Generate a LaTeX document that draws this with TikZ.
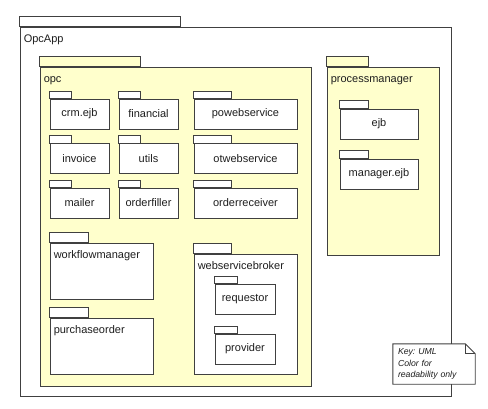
\documentclass[tikz,border=0pt]{standalone}
\usepackage{fontspec}
\setmainfont{Liberation Sans}
\usetikzlibrary{positioning, calc}
\definecolor{LN}{RGB}{64,64,64}
\definecolor{TX}{RGB}{30,30,30}
\definecolor{PY}{RGB}{255,255,204}
\tikzset{
  pkg/.style={draw=LN, fill=white, line width=0.9pt, inner sep=0pt,
    text=TX, font=\fontsize{11}{13}\selectfont},
  pkgtab/.style={draw=LN, fill=white, line width=0.9pt},
  yel/.style={fill=PY},
  pkgname/.style={anchor=base west, inner sep=0pt, text=TX,
    font=\fontsize{11}{13}\selectfont},
  notebox/.style={fill=white, inner xsep=5pt, inner ysep=0pt, text=TX,
    align=left, font=\fontsize{8.7}{11.5}\selectfont\itshape\frenchspacing},
}

\begin{document}
\begin{tikzpicture}[x=1pt,y=-1pt]
\useasboundingbox (0,0) rectangle (488,408);
\fill[white] (0,0) rectangle (488,408);

% OpcApp
\node[pkg, minimum width=431, minimum height=369] (opcapp) at (235.5,211.5) {};
\draw[pkgtab] (opcapp.north west) rectangle ++(161,-10);
\node[pkgname] (opcappname) at ($(opcapp.north west)+(4,15.5)$) {OpcApp};

% opc
\node[pkg, yel, minimum width=271, minimum height=319] (opc) at (175.5,226.5) {};
\draw[pkgtab, yel] (opc.north west) rectangle ++(101,-10);
\node[pkgname] (opcname) at ($(opc.north west)+(4,15.5)$) {opc};

\node[pkg, minimum width=59, minimum height=30] (crm) at (79.5,114) {crm.ejb};
\draw[pkgtab] (crm.north west) rectangle ++(22,-7.5);
\node[pkg, minimum width=59, minimum height=30] (financial) at (148.5,114) {financial};
\draw[pkgtab] (financial.north west) rectangle ++(22,-7.5);
\node[pkg, minimum width=103, minimum height=30] (powebservice) at (245.5,114) {powebservice};
\draw[pkgtab] (powebservice.north west) rectangle ++(38,-7.5);

\node[pkg, minimum width=59, minimum height=30] (invoice) at (79.5,158.5) {invoice};
\draw[pkgtab] (invoice.north west) rectangle ++(22,-7.5);
\node[pkg, minimum width=59, minimum height=30] (utils) at (148.5,158.5) {utils};
\draw[pkgtab] (utils.north west) rectangle ++(22,-7.5);
\node[pkg, minimum width=103, minimum height=30] (otwebservice) at (245.5,158.5) {otwebservice};
\draw[pkgtab] (otwebservice.north west) rectangle ++(38,-7.5);

\node[pkg, minimum width=59, minimum height=30] (mailer) at (79.5,203) {mailer};
\draw[pkgtab] (mailer.north west) rectangle ++(22,-7.5);
\node[pkg, minimum width=59, minimum height=30] (orderfiller) at (148.5,203) {orderfiller};
\draw[pkgtab] (orderfiller.north west) rectangle ++(22,-7.5);
\node[pkg, minimum width=103, minimum height=30] (orderreceiver) at (245.5,203) {orderreceiver};
\draw[pkgtab] (orderreceiver.north west) rectangle ++(38,-7.5);

\node[pkg, minimum width=103, minimum height=56] (workflow) at (101.5,271) {};
\draw[pkgtab] (workflow.north west) rectangle ++(39,-10);
\node[pkgname] (workflowname) at ($(workflow.north west)+(4,15.5)$) {workflowmanager};

\node[pkg, minimum width=103, minimum height=56] (purchase) at (101.5,346) {};
\draw[pkgtab] (purchase.north west) rectangle ++(39,-10);
\node[pkgname] (purchasename) at ($(purchase.north west)+(4,15.5)$) {purchaseorder};

\node[pkg, minimum width=103, minimum height=120] (broker) at (245.5,314) {};
\draw[pkgtab] (broker.north west) rectangle ++(38,-10);
\node[pkgname] (brokername) at ($(broker.north west)+(4,15.5)$) {webservicebroker};

\node[pkg, minimum width=60, minimum height=30] (requestor) at (245,299) {requestor};
\draw[pkgtab] (requestor.north west) rectangle ++(23,-7.5);
\node[pkg, minimum width=60, minimum height=30] (provider) at (245,349) {provider};
\draw[pkgtab] (provider.north west) rectangle ++(23,-7.5);

% processmanager
\node[pkg, yel, minimum width=112, minimum height=188] (procmgr) at (383,161) {};
\draw[pkgtab, yel] (procmgr.north west) rectangle ++(42,-10);
\node[pkgname] (procmgrname) at ($(procmgr.north west)+(4,15.5)$) {processmanager};

\node[pkg, minimum width=78, minimum height=30] (ejb) at (379,124) {ejb};
\draw[pkgtab] (ejb.north west) rectangle ++(29,-8);
\node[pkg, minimum width=78, minimum height=30] (mgrejb) at (379,174) {manager.ejb};
\draw[pkgtab] (mgrejb.north west) rectangle ++(29,-8);

% key
\node[notebox, minimum width=82, minimum height=40, text width=72] (key) at (434,364)
  {Key: UML\\Color for\\readability only};
\draw[LN, line width=0.9pt] (key.north west) -- ($(key.north east)+(-10,0)$)
  -- ($(key.north east)+(0,10)$) -- (key.south east) -- (key.south west) -- cycle;
\draw[LN, line width=0.9pt] ($(key.north east)+(-10,0)$) -- ($(key.north east)+(-10,10)$)
  -- ($(key.north east)+(0,10)$);
\end{tikzpicture}
\end{document}
